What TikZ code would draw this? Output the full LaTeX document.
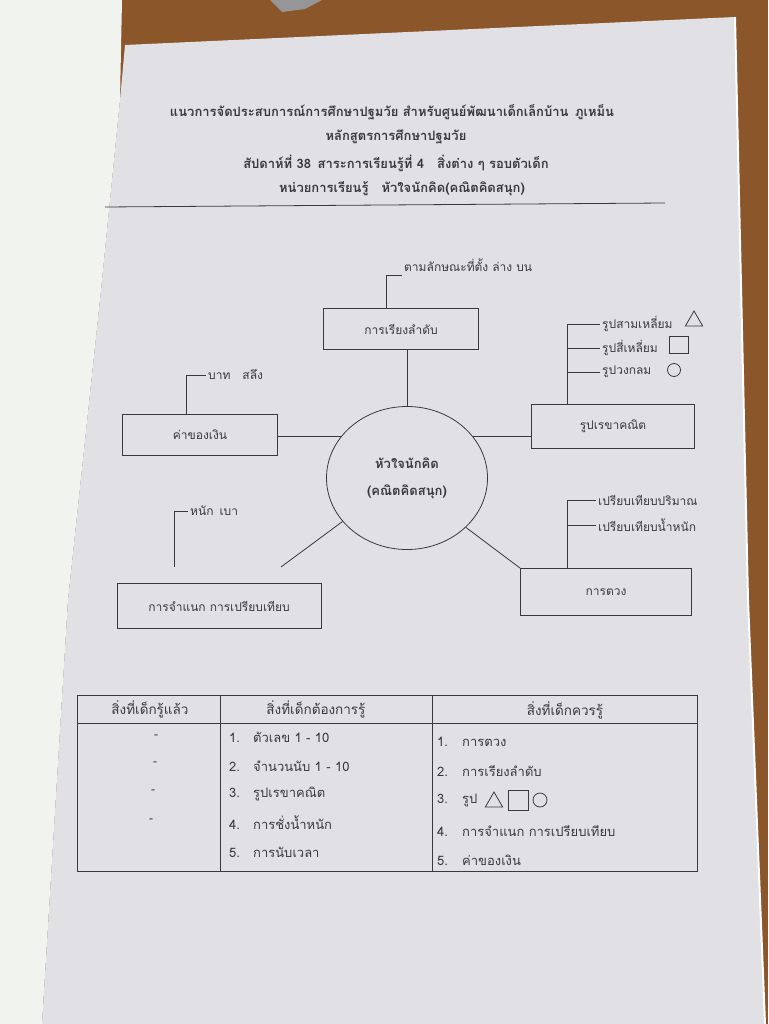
\documentclass[tikz,border=0pt]{standalone}
\usepackage{fontspec}
\newfontfamily\thai[Script=Thai]{Loma}
\usetikzlibrary{shapes.geometric}
\definecolor{wood}{RGB}{138,86,42}
\definecolor{paper}{RGB}{225,225,229}
\definecolor{leaf}{RGB}{240,243,238}
\definecolor{ink}{RGB}{58,58,60}
\definecolor{phone}{RGB}{150,150,152}

\begin{document}
\begin{tikzpicture}[x=1pt,y=-1pt,font=\thai\fontsize{12}{14}\selectfont,
  box/.style={draw=ink,line width=0.8pt,minimum height=41pt,text=ink},
  ring/.style={ellipse,draw=ink,line width=0.8pt,minimum width=161pt,minimum height=143pt,text=ink,align=center},
  note/.style={text=ink,inner sep=2pt},
  wire/.style={draw=ink,line width=0.8pt},
  item/.style={text=ink,anchor=west,inner sep=1pt,font=\thai\fontsize{13}{15}\selectfont},
  sym/.style={draw=ink,line width=0.8pt,inner sep=0pt}]
\useasboundingbox (0,0) rectangle (768,1024);

% photo: desk, book pages
\fill[wood] (0,0) rectangle (768,1024);
\fill[phone] (270,0) -- (322,0) -- (305,9) -- (282,12) -- cycle;
\fill[paper] (125,45) -- (735,17) -- (748,600) -- (765,1024) -- (42,1024) -- (68,600) -- (100,300) -- (120,100) -- cycle;
\draw[white,line width=2pt] (735,17) -- (748,600) -- (765,1024);
\fill[leaf] (0,0) -- (122,0) -- (120,100) -- (100,300) -- (68,600) -- (42,1024) -- (0,1024) -- cycle;

% heading
\node[text=ink,font=\thai\bfseries\fontsize{13}{15}\selectfont] (head1) at (392,112) {แนวการจัดประสบการณ์การศึกษาปฐมวัย สำหรับศูนย์พัฒนาเด็กเล็กบ้าน\enspace ภูเหม็น};
\node[text=ink,font=\thai\bfseries\fontsize{13}{15}\selectfont] (head2) at (396,137) {หลักสูตรการศึกษาปฐมวัย};
\node[text=ink,font=\thai\bfseries\fontsize{13}{15}\selectfont] (head3) at (396,163) {สัปดาห์ที่ 38\enspace สาระการเรียนรู้ที่ 4\quad สิ่งต่าง ๆ รอบตัวเด็ก};
\node[text=ink,font=\thai\bfseries\fontsize{13}{15}\selectfont] (head4) at (402,189) {หน่วยการเรียนรู้\quad หัวใจนักคิด(คณิตคิดสนุก)};
\draw[wire] (105,207) -- (665,203);

% web
\node[ring,font=\thai\bfseries\fontsize{13}{15}\selectfont] (core) at (407,478) {\rule{0pt}{12pt}หัวใจนักคิด\\[12pt](คณิตคิดสนุก)};
\node[box,minimum width=155pt] (order) at (401,329) {การเรียงลำดับ};
\node[box,minimum width=163pt,minimum height=44pt] (shape) at (613,426) {รูปเรขาคณิต};
\node[box,minimum width=155pt] (money) at (200,435) {ค่าของเงิน};
\node[box,minimum width=204pt,minimum height=45pt] (sort) at (219,606) {การจำแนก การเปรียบเทียบ};
\node[box,minimum width=171pt,minimum height=47pt] (pour) at (606,592) {การตวง};

\draw[wire] (core.north) -- (core.north |- order.south);
\draw[wire] (core.32) -- (core.32 -| shape.west);
\draw[wire] (core.148) -- (core.148 -| money.east);
\coordinate (sortend) at (281,567);
\draw[wire] (core.214) -- (sortend);
\draw[wire] (core.320) -- (pour.north west);

% sub topics
\node[note,anchor=west] (ordnote) at (402,265) {ตามลักษณะที่ตั้ง ล่าง บน};
\draw[wire] ([yshift=-2pt]ordnote.south west) -| ([xshift=-15pt]order.north);

\node[note,anchor=west] (tri) at (600,324) {รูปสามเหลี่ยม};
\node[note,anchor=west] (sqr) at (600,348) {รูปสี่เหลี่ยม};
\node[note,anchor=west] (rnd) at (600,372) {รูปวงกลม};
\draw[wire] ([xshift=-46pt]shape.north) |- (tri.west);
\draw[wire] ([xshift=-46pt]shape.north) |- (sqr.west);
\draw[wire] ([xshift=-46pt]shape.north) |- (rnd.west);
\node[sym,regular polygon,regular polygon sides=3,minimum size=20pt] (trisym) at (694,321) {};
\node[sym,minimum width=19pt,minimum height=17pt] (sqrsym) at (679,345) {};
\node[sym,circle,minimum size=13pt] (rndsym) at (674,370) {};

\node[note,anchor=west] (cashnote) at (206,375) {บาท\quad สลึง};
\draw[wire] (cashnote.west) -| ([xshift=-14pt]money.north);

\node[note,anchor=west] (sortnote) at (188,511) {หนัก\enspace เบา};
\coordinate (sortfoot) at (174,567);
\draw[wire] (sortnote.west) -| (sortfoot);

\node[note,anchor=west] (volnote) at (596,500) {เปรียบเทียบปริมาณ};
\node[note,anchor=west] (wgtnote) at (596,525) {เปรียบเทียบน้ำหนัก};
\draw[wire] (volnote.west) -| ([xshift=-39pt]pour.north);
\draw[wire] (wgtnote.west) -| ([xshift=-39pt]pour.north);

% table
\draw[wire] (77,695) rectangle (697,871);
\draw[wire] (77,723) -- (697,723);
\draw[wire] (220,695) -- (220,871);
\draw[wire] (432,695) -- (432,871);

\node[text=ink,font=\thai\fontsize{13.5}{15}\selectfont] (knowhead) at (150,709) {สิ่งที่เด็กรู้แล้ว};
\node[text=ink,font=\thai\fontsize{13.5}{15}\selectfont] (wanthead) at (316,709) {สิ่งที่เด็กต้องการรู้};
\node[text=ink,font=\thai\fontsize{13.5}{15}\selectfont] (shouldhead) at (565,710) {สิ่งที่เด็กควรรู้};

\node[text=ink] (know1) at (156,737) {-};
\node[text=ink] (know2) at (155,764) {-};
\node[text=ink] (know3) at (153,792) {-};
\node[text=ink] (know4) at (151,821) {-};

\node[item] (want1) at (228,737) {\makebox[24pt][l]{1.}ตัวเลข 1 - 10};
\node[item] (want2) at (228,766) {\makebox[24pt][l]{2.}จำนวนนับ 1 - 10};
\node[item] (want3) at (228,794) {\makebox[24pt][l]{3.}รูปเรขาคณิต};
\node[item] (want4) at (228,823) {\makebox[24pt][l]{4.}การชั่งน้ำหนัก};
\node[item] (want5) at (228,852) {\makebox[24pt][l]{5.}การนับเวลา};

\node[item] (should1) at (436,742) {\makebox[25pt][l]{1.}การตวง};
\node[item] (should2) at (436,771) {\makebox[25pt][l]{2.}การเรียงลำดับ};
\node[item] (should3) at (436,800) {\makebox[25pt][l]{3.}รูป};
\node[sym,regular polygon,regular polygon sides=3,minimum size=20pt] (shouldtri) at (494,802) {};
\node[sym,minimum width=20pt,minimum height=20pt] (shouldsqr) at (518,800) {};
\node[sym,circle,minimum size=14pt] (shouldrnd) at (540,800) {};
\node[item] (should4) at (436,831) {\makebox[25pt][l]{4.}การจำแนก การเปรียบเทียบ};
\node[item] (should5) at (436,860) {\makebox[25pt][l]{5.}ค่าของเงิน};
\end{tikzpicture}
\end{document}
